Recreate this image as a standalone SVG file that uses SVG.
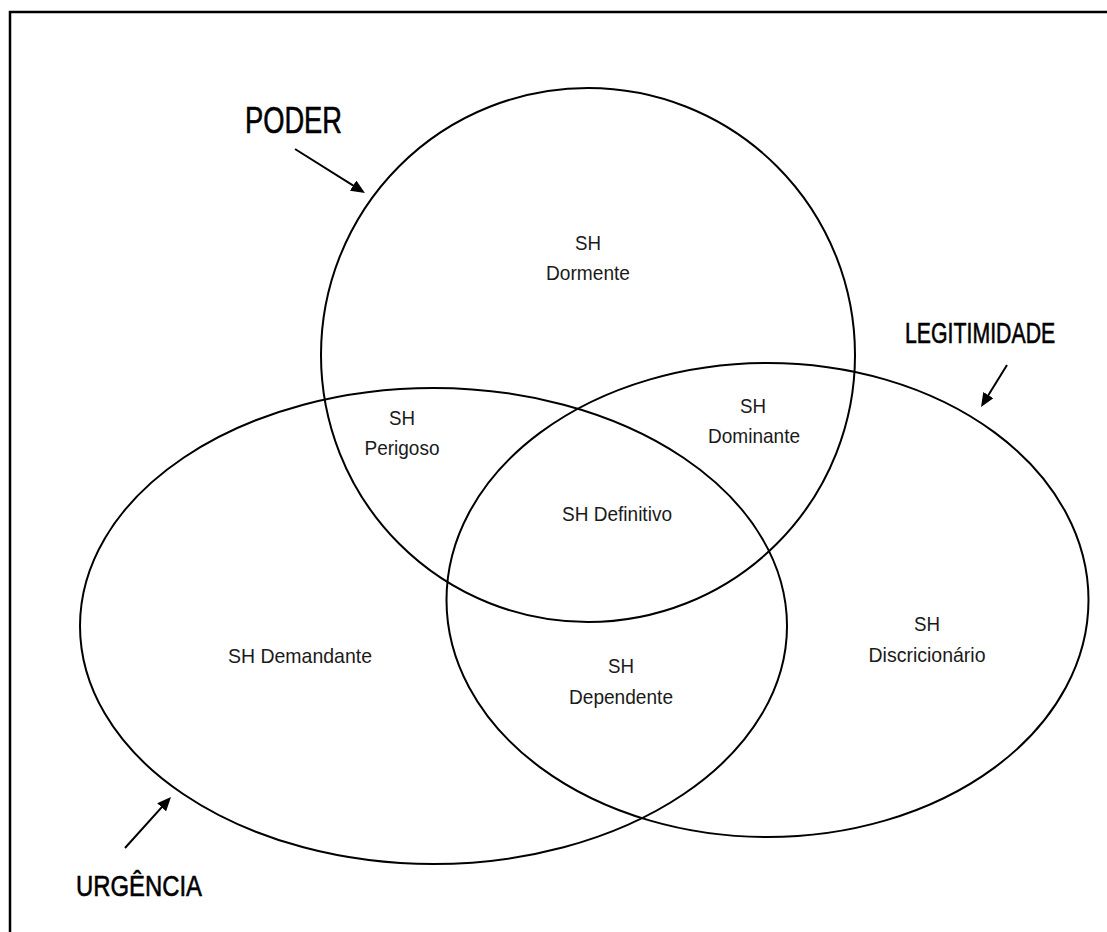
<svg xmlns="http://www.w3.org/2000/svg" width="1107" height="932" viewBox="0 0 1107 932">
<style>
.shape{fill:none;stroke:#000;stroke-width:2}
.frame{fill:none;stroke:#000;stroke-width:2.5}
.lbl{font-family:"Liberation Sans",Arial,sans-serif;font-size:21px;fill:#1a1a1a;text-anchor:middle}
.big{font-family:"Liberation Sans",Arial,sans-serif;fill:#000;stroke:#000;stroke-width:0.6}
.arrow{stroke:#000;stroke-width:2;fill:none}
</style>
<defs>
<marker id="ah" viewBox="0 0 14 12" markerWidth="14" markerHeight="12" refX="4" refY="6" orient="auto" markerUnits="userSpaceOnUse">
<path d="M0,0 L14,6 L0,12 z" fill="#000"/>
</marker>
</defs>
<rect width="1107" height="932" fill="#fff"/>
<path class="frame" d="M10,940 V12 H1115"/>
<g id="poder">
<circle class="shape" cx="588" cy="355" r="267"/>
<text class="big" x="245" y="133" font-size="37" textLength="97" lengthAdjust="spacingAndGlyphs">PODER</text>
</g>
<g id="urgencia">
<ellipse class="shape" cx="433.5" cy="626" rx="353.5" ry="238"/>
<text class="big" x="76" y="896" font-size="30" textLength="126" lengthAdjust="spacingAndGlyphs">URGÊNCIA</text>
</g>
<g id="legitimidade">
<ellipse class="shape" cx="767.5" cy="600" rx="321" ry="237"/>
<text class="big" transform="translate(905,343) scale(0.71,1)" x="0" y="0" font-size="30">LEGITIMIDADE</text>
</g>
<g id="connectors">
<line class="arrow" x1="295" y1="149" x2="356.5" y2="187.7" marker-end="url(#ah)"/>
<line class="arrow" x1="1007" y1="365" x2="986.3" y2="398.5" marker-end="url(#ah)"/>
<line class="arrow" x1="125" y1="848" x2="164.3" y2="804.4" marker-end="url(#ah)"/>
</g>
<g id="sh-dormente">
<text class="lbl" x="588" y="250" textLength="26" lengthAdjust="spacingAndGlyphs">SH</text>
<text class="lbl" x="588" y="280" textLength="84" lengthAdjust="spacingAndGlyphs">Dormente</text>
</g>
<g id="sh-perigoso">
<text class="lbl" x="402" y="425" textLength="26" lengthAdjust="spacingAndGlyphs">SH</text>
<text class="lbl" x="402" y="455" textLength="75" lengthAdjust="spacingAndGlyphs">Perigoso</text>
</g>
<g id="sh-dominante">
<text class="lbl" x="753" y="413" textLength="26" lengthAdjust="spacingAndGlyphs">SH</text>
<text class="lbl" x="754" y="443" textLength="92" lengthAdjust="spacingAndGlyphs">Dominante</text>
</g>
<g id="sh-definitivo">
<text class="lbl" x="617" y="521" textLength="110" lengthAdjust="spacingAndGlyphs">SH Definitivo</text>
</g>
<g id="sh-demandante">
<text class="lbl" x="300" y="663" textLength="144" lengthAdjust="spacingAndGlyphs">SH Demandante</text>
</g>
<g id="sh-discricionario">
<text class="lbl" x="927" y="631" textLength="26" lengthAdjust="spacingAndGlyphs">SH</text>
<text class="lbl" x="927" y="662" textLength="117" lengthAdjust="spacingAndGlyphs">Discricionário</text>
</g>
<g id="sh-dependente">
<text class="lbl" x="621" y="673" textLength="26" lengthAdjust="spacingAndGlyphs">SH</text>
<text class="lbl" x="621" y="704" textLength="104" lengthAdjust="spacingAndGlyphs">Dependente</text>
</g>
</svg>
